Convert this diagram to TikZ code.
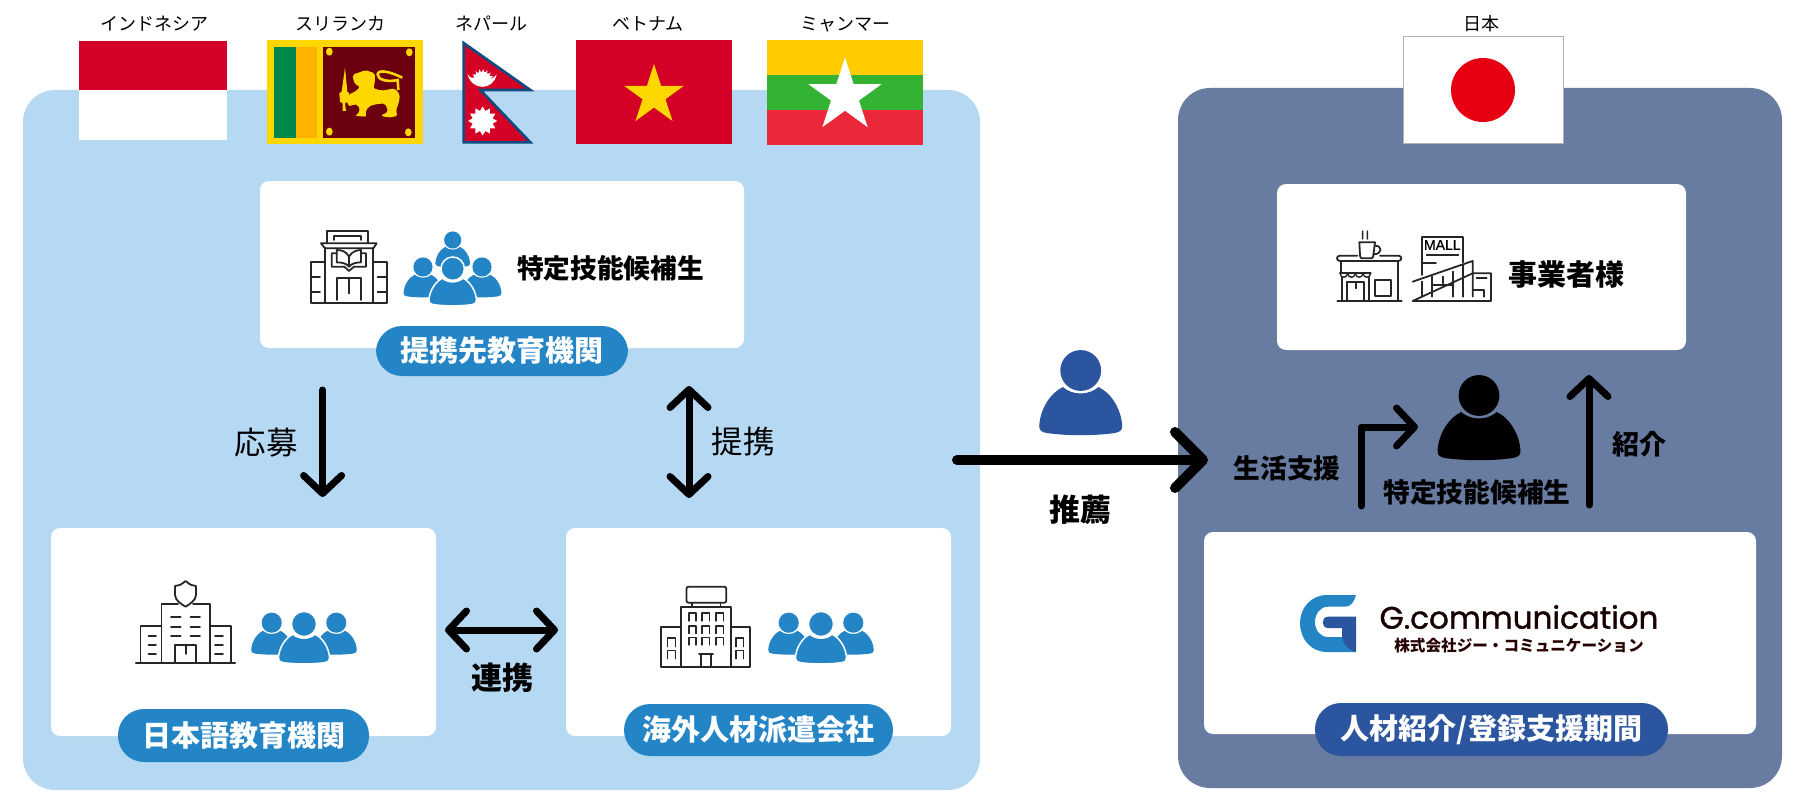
\documentclass[tikz,border=0pt]{standalone}
\usepackage{fontspec}
\setmainfont{Noto Sans CJK JP}
\newfontfamily\logofont{Poppins}[FakeBold=1.2]
\newfontfamily\mallfont{Liberation Sans}[FakeBold=.6]
\usetikzlibrary{arrows.meta,shapes.geometric}
\definecolor{lightpanel}{HTML}{B5D9F3}
\definecolor{darkpanel}{HTML}{687BA0}
\definecolor{iconblue}{HTML}{2485C6}
\definecolor{navyblue}{HTML}{2B559E}
\definecolor{flagred}{HTML}{D50025}
\definecolor{lankayellow}{HTML}{FFD700}
\definecolor{lankagreen}{HTML}{00884C}
\definecolor{lankaorange}{HTML}{FFB300}
\definecolor{lankamaroon}{HTML}{6A0010}
\definecolor{nepalblue}{HTML}{0F4C81}
\definecolor{myanyellow}{HTML}{FFCC00}
\definecolor{myangreen}{HTML}{34B233}
\definecolor{myanred}{HTML}{EA2839}
\definecolor{japanred}{HTML}{E60012}
\newcommand{\fsize}[1]{\fontsize{#1}{#1}\selectfont}
\tikzset{
  panelbox/.style={rounded corners=32pt,inner sep=0pt},
  whitebox/.style={fill=white,rounded corners=9pt,inner sep=0pt},
  pillbox/.style={fill=iconblue,text=white,rounded corners=26pt,inner sep=0pt,font=\bfseries\fsize{29}},
  flaglabel/.style={inner sep=0pt,font=\fsize{18}},
  boldlabel/.style={inner sep=0pt,font=\bfseries\fsize{#1}},
  plainlabel/.style={inner sep=0pt,font=\fsize{#1}},
  lineicon/.style={draw=black!85,line width=1.8pt,line join=round,line cap=round},
  thinhead/.tip={Straight Barb[round,length=18pt,width=38pt]},
  widehead/.tip={Straight Barb[round,length=28pt,width=56pt]},
  linkarrow/.style={line width=7pt,line cap=round,line join=round},
  personfig/.pic={
    \path[pic actions] (0,0) circle (12.6);
    \path[pic actions] (-11,10.2) .. controls (-5,15.5) and (5,15.5) .. (11,10.2)
      .. controls (19,14) and (25,24) .. (25.6,34) .. controls (25.8,37) and (24,38) .. (21,38.6)
      .. controls (8,40.4) and (-8,40.4) .. (-21,38.6) .. controls (-24,38) and (-25.8,37) .. (-25.6,34)
      .. controls (-25,24) and (-19,14) .. (-11,10.2) -- cycle;
  },
  trio/.pic={
    \pic[fill=iconblue,scale=.8] at (-32.3,-1.3) {personfig};
    \pic[fill=iconblue,scale=.8] at (32.3,-1.3) {personfig};
    \pic[fill=iconblue,draw=white,line width=1.5pt] at (0,0) {personfig};
  }
}
\begin{document}
\begin{tikzpicture}[x=1pt,y=-1pt]
\useasboundingbox (0,0) rectangle (1800,800);
\node[panelbox,fill=lightpanel,minimum width=957pt,minimum height=700pt] (leftpanel) at (501.5,440) {};
\node[panelbox,fill=darkpanel,minimum width=604pt,minimum height=700pt] (rightpanel) at (1480,438) {};

\fill[flagred] (79,41) rectangle (227,90.5);
\fill[white] (79,90.5) rectangle (227,140);

\fill[lankayellow] (267,40) rectangle (423,144);
\fill[lankagreen] (274,46.7) rectangle (295.5,137.7);
\fill[lankaorange] (295.5,46.7) rectangle (317,137.7);
\fill[lankamaroon] (323.4,46.7) rectangle (415,137.7);
\begin{scope}[shift={(320,45)},x=.3333pt,y=-.3333pt]
  \foreach \x/\y in {28/20,268/22,28/260,265/262}
    \fill[lankayellow] (\x,\y) ellipse (10 and 12);
  \fill[lankayellow] (75,68) -- (82,140) -- (88,145) -- (85,170) -- (75,175) -- (78,198) -- (68,198) -- (68,175) -- (60,170) -- (58,145) -- (65,140) -- cycle;
  \fill[lankayellow,rounded corners=2pt] (98,88) -- (120,82) -- (135,75) -- (165,85) -- (165,110) -- (160,130) -- (185,137) -- (225,130) -- (240,150) -- (236,175) -- (228,195) -- (232,213) -- (205,218) -- (182,212) -- (205,200) -- (195,175) -- (165,178) -- (145,185) -- (135,205) -- (140,215) -- (105,213) -- (120,200) -- (115,180) -- (100,178) -- (88,185) -- (80,170) -- (85,150) -- (110,137) -- (120,125) -- (105,118) -- (100,105) -- cycle;
  \draw[lankayellow,line width=2.6pt] (235,135) -- (233,105) .. controls (205,112) and (172,105) .. (173,88) .. controls (175,72) and (210,80) .. (247,98);
\end{scope}

\begin{scope}[shift={(455,35)},x=.3333pt,y=-.3333pt]
  \fill[flagred,draw=nepalblue,line width=2.6pt,line join=miter] (26,24) -- (226,165) -- (76,165) -- (226,322) -- (26,322) -- cycle;
  \fill[white] (38,118) .. controls (50,168) and (115,168) .. (125,118) .. controls (112,142) and (52,142) .. (38,118) -- cycle;
  \fill[white] (54,138) arc[start angle=180,end angle=360,radius=28] -- cycle;
  \foreach \a in {195,215,...,345}
    \fill[white,shift={(82,138)}] ({\a-8}:26) -- (\a:36) -- ({\a+8}:26) -- cycle;
  \node[star,star points=12,star point ratio=1.4,fill=white,inner sep=0pt,minimum size=29pt] (nepalsun) at (83,258) {};
\end{scope}

\fill[flagred] (576,40) rectangle (732,144);
\node[star,star points=5,star point ratio=2.618,fill=lankayellow,inner sep=0pt,minimum size=63pt] (vietstar) at (654,95.5) {};

\fill[myanyellow] (767,40) rectangle (923,75);
\fill[myangreen] (767,75) rectangle (923,110);
\fill[myanred] (767,110) rectangle (923,145);
\node[star,star points=5,star point ratio=2.618,fill=white,inner sep=0pt,minimum size=77pt] (myanstar) at (845,96) {};

\fill[white,draw=black!30,line width=1pt] (1403.6,37) rectangle (1563,143);
\fill[japanred] (1483,90) circle (32);

\foreach \x/\lbl/\txt in {154/indo/インドネシア,340.6/lanka/スリランカ,491/nepal/ネパール,648/viet/ベトナム,845/myan/ミャンマー,1481/japan/日本}
  \node[flaglabel] (\lbl label) at (\x,24) {\txt};

\node[whitebox,minimum width=484pt,minimum height=167pt] (candbox) at (502,264.5) {};
\node[whitebox,minimum width=385pt,minimum height=208pt] (schoolbox) at (243.5,632) {};
\node[whitebox,minimum width=385pt,minimum height=208pt] (agentbox) at (758.5,632) {};
\node[whitebox,minimum width=409pt,minimum height=166pt] (bizbox) at (1481.5,267) {};
\node[whitebox,minimum width=552pt,minimum height=202pt] (gcommbox) at (1480,633) {};

\node[pillbox,minimum width=252pt,minimum height=50pt] (candpill) at (502,351) {提携先教育機関};
\node[pillbox,minimum width=251pt,minimum height=53pt] (schoolpill) at (243.5,735.5) {日本語教育機関};
\node[pillbox,minimum width=269pt,minimum height=52pt] (agentpill) at (758.5,730) {海外人材派遣会社};
\node[pillbox,fill=navyblue,minimum width=353pt,minimum height=53pt] (gcommpill) at (1491.5,729.5) {人材紹介/登録支援期間};

\node[boldlabel=26.7] (candlabel) at (610.5,268) {特定技能候補生};
\node[boldlabel=29] (bizlabel) at (1566.5,274) {事業者様};
\node[plainlabel=31.5] (oubolabel) at (266,443) {応募};
\node[plainlabel=31.5] (teikeilabel) at (743,442) {提携};
\node[boldlabel=31] (renkeilabel) at (502,678) {連携};
\node[boldlabel=31] (suisenlabel) at (1080,510) {推薦};
\node[boldlabel=26.7] (seikatsulabel) at (1287,468) {生活支援};
\node[boldlabel=26.7] (jinzailabel) at (1477,492) {特定技能候補生};
\node[boldlabel=27] (shoukailabel) at (1639,444) {紹介};

\coordinate (ouboa) at (322.6,390);
\coordinate (ouboz) at (322.6,497);
\coordinate (teikeia) at (689,386);
\coordinate (teikeiz) at (689,498);
\coordinate (renkeia) at (445,630);
\coordinate (renkeiz) at (558,630);
\coordinate (suisena) at (957,460);
\coordinate (suisenz) at (1208,460);
\coordinate (seikatsua) at (1361,506);
\coordinate (seikatsub) at (1361,427);
\coordinate (seikatsuz) at (1418,427);
\coordinate (shoukaia) at (1589,505);
\coordinate (shoukaiz) at (1589,375);
\draw[linkarrow,-{thinhead}] (ouboa) -- (ouboz);
\draw[linkarrow,{thinhead}-{thinhead}] (teikeia) -- (teikeiz);
\draw[linkarrow,{thinhead}-{thinhead}] (renkeia) -- (renkeiz);
\draw[linkarrow,line width=10pt,-{widehead}] (suisena) -- (suisenz);
\draw[linkarrow,-{thinhead}] (seikatsua) -- (seikatsub) -- (seikatsuz);
\draw[linkarrow,-{thinhead}] (shoukaia) -- (shoukaiz);

\pic[fill=navyblue,scale=1.62] at (1080.7,370.5) {personfig};
\pic[fill=black,scale=1.62] at (1479,395.5) {personfig};

\pic[fill=iconblue,scale=.68] at (452.7,240) {personfig};
\pic[fill=iconblue,scale=.76] at (423,267) {personfig};
\pic[fill=iconblue,scale=.76] at (482,267) {personfig};
\pic[fill=iconblue,draw=white,line width=1.5pt,scale=.93] at (452.7,268.7) {personfig};
\pic at (304,624) {trio};
\pic at (821,624) {trio};

\begin{scope}[shift={(305,225)},x=.3333pt,y=-.3333pt]
  \draw[lineicon] (65,55) -- (65,18) -- (190,18) -- (190,55);
  \draw[lineicon] (88,45) -- (88,33) -- (168,33) -- (168,45);
  \draw[lineicon] (48,55) -- (215,55) -- (205,70) -- (60,70) -- cycle;
  \draw[lineicon] (60,70) -- (60,235) (205,70) -- (205,235);
  \draw[lineicon] (60,112) -- (17,112) -- (17,235) -- (245,235) -- (245,112) -- (205,112);
  \foreach \y in {155,200} {
    \draw[lineicon] (17,\y) -- (45,\y);
    \draw[lineicon] (218,\y) -- (245,\y);
  }
  \draw[lineicon] (97,225) -- (97,160) -- (168,160) -- (168,225) (132,160) -- (132,205);
  \draw[lineicon] (95,85) -- (80,85) -- (80,125) -- (118,125) -- (132,138) -- (147,125) -- (183,125) -- (183,85) -- (168,85);
  \draw[lineicon] (132,125) .. controls (125,115) and (110,112) .. (95,112) -- (95,75) .. controls (110,75) and (125,80) .. (132,95) .. controls (140,80) and (155,75) .. (168,75) -- (168,112) .. controls (155,112) and (140,115) .. (132,125) -- cycle (132,95) -- (132,125);
\end{scope}

\draw[lineicon,line width=2.4pt] (136,662.7) -- (235,662.7);
\draw[lineicon] (161.5,662) -- (161.5,604) -- (178,604) (193,604) -- (209.7,604) -- (209.7,662);
\draw[lineicon] (161.5,626) -- (140.5,626) -- (140.5,662) (209.7,626) -- (230.8,626) -- (230.8,662);
\draw[lineicon] (185.6,581) .. controls (181,585) and (178,586) .. (175,586) -- (175,595) .. controls (175,600) and (181,604) .. (185.6,606.7) .. controls (190,604) and (196,600) .. (196,595) -- (196,586) .. controls (193,586) and (190,585) .. (185.6,581) -- cycle;
\foreach \y in {616.7,626.7,636} {
  \draw[lineicon] (171,\y) -- (180.6,\y);
  \draw[lineicon] (190.6,\y) -- (200,\y);
}
\foreach \y in {635.7,645,654.3} {
  \draw[lineicon] (148.5,\y) -- (156,\y);
  \draw[lineicon] (215,\y) -- (223,\y);
}
\draw[lineicon] (175,662) -- (175,645) -- (196,645) -- (196,662) (185.6,645) -- (185.6,654);

\draw[lineicon,rounded corners=2pt] (686.5,586.7) rectangle (726.3,602.7);
\draw[lineicon] (692,602.7) -- (692,607) (720.5,602.7) -- (720.5,607);
\draw[lineicon] (681,666.7) -- (681,607) -- (731,607) -- (731,666.7);
\draw[lineicon] (681,627) -- (661,627) -- (661,666.7) -- (750,666.7) -- (750,627) -- (731,627);
\foreach \x in {688.8,702,716}
  \foreach \y/\yb in {613/621,626/633.5,637.7/645}
    \draw[lineicon,line width=1.4pt] (\x,\yb) -- (\x,\y) -- (\x+7.2,\y) -- (\x+7.2,\yb);
\foreach \x in {667.7,736}
  \foreach \y/\yb in {638/646.7,650.7/658.7}
    \draw[lineicon,line width=1.4pt] (\x,\yb) -- (\x,\y) -- (\x+7.5,\y) -- (\x+7.5,\yb);
\draw[lineicon] (701,666.7) -- (701,654) -- (711,654) -- (711,666.7) (699,654) -- (713,654);

\begin{scope}[shift={(1330,225)},x=.3333pt,y=-.3333pt]
  \draw[lineicon,line width=1.4pt] (98,18) .. controls (94,26) and (102,32) .. (98,42) (112,18) .. controls (108,26) and (116,32) .. (112,42);
  \draw[lineicon] (88,52) -- (135,52) -- (130,92) .. controls (129,98) and (127,100) .. (123,100) -- (97,100) .. controls (93,100) and (91,98) .. (90,92) -- cycle;
  \draw[lineicon] (135,62) .. controls (158,62) and (158,88) .. (130,88);
  \draw[lineicon] (82,92) -- (30,92) .. controls (18,92) and (18,108) .. (30,108) -- (205,108) .. controls (217,108) and (217,92) .. (205,92) -- (150,92);
  \draw[lineicon] (34,108) -- (34,145) (203,108) -- (203,228);
  \draw[lineicon] (30,145) -- (122,145);
  \foreach \x in {30,53,76,99}
    \draw[lineicon,line width=1.4pt] (\x,145) .. controls (\x+3,161) and (\x+20,161) .. (\x+23,145);
  \draw[lineicon] (37,158) -- (37,228) (118,158) -- (118,228);
  \draw[lineicon] (22,228) -- (215,228);
  \draw[lineicon] (52,228) -- (52,172) -- (103,172) -- (103,228) (78,172) -- (78,190);
  \draw[lineicon] (135,165) rectangle (183,212);

  \draw[lineicon] (275,150) -- (275,35) -- (400,35) -- (400,112);
  \node[inner sep=0pt,font=\mallfont\fsize{14}] (malltext) at (337,60) {MALL};
  \draw[lineicon] (290,90) -- (385,90);
  \draw[lineicon] (275,115) -- (318,115);
  \draw[lineicon] (248,170) -- (428,108) -- (428,215);
  \draw[lineicon] (428,145) -- (483,145) -- (483,228) -- (248,228) -- cycle;
  \draw[lineicon] (275,170) -- (275,215) (305,155) -- (305,215) (305,180) -- (370,180) (370,140) -- (370,215) (340,155) -- (340,175) (400,120) -- (400,215);
  \draw[lineicon] (440,160) -- (470,160) (428,195) -- (462,195) -- (462,215);
\end{scope}

\fill[iconblue] (1356,595) -- (1327,595) .. controls (1311,595) and (1300,608) .. (1300,623) .. controls (1300,639) and (1311,652) .. (1327,652) -- (1356,652) -- (1342,637) -- (1328,637) .. controls (1320,637) and (1315,630) .. (1315,622) .. controls (1315,614) and (1320,606.7) .. (1328,606.7) -- (1345,606.7) .. controls (1351,606.7) and (1354,602) .. (1356,595) -- cycle;
\fill[navyblue] (1356,616.7) -- (1328,616.7) .. controls (1321,616.7) and (1321,628) .. (1328,628) -- (1342,628) -- (1342,636) .. controls (1343,645) and (1349,650) .. (1356,652) -- cycle;
\node[inner sep=0pt,text=black!90!red,font=\logofont\fsize{31}] (logoname) at (1519,617) {G.communication};
\node[inner sep=0pt,text=black!85!red,font=\bfseries\fsize{15.6}] (logokana) at (1519,646) {株式会社ジー・コミュニケーション};
\end{tikzpicture}
\end{document}
